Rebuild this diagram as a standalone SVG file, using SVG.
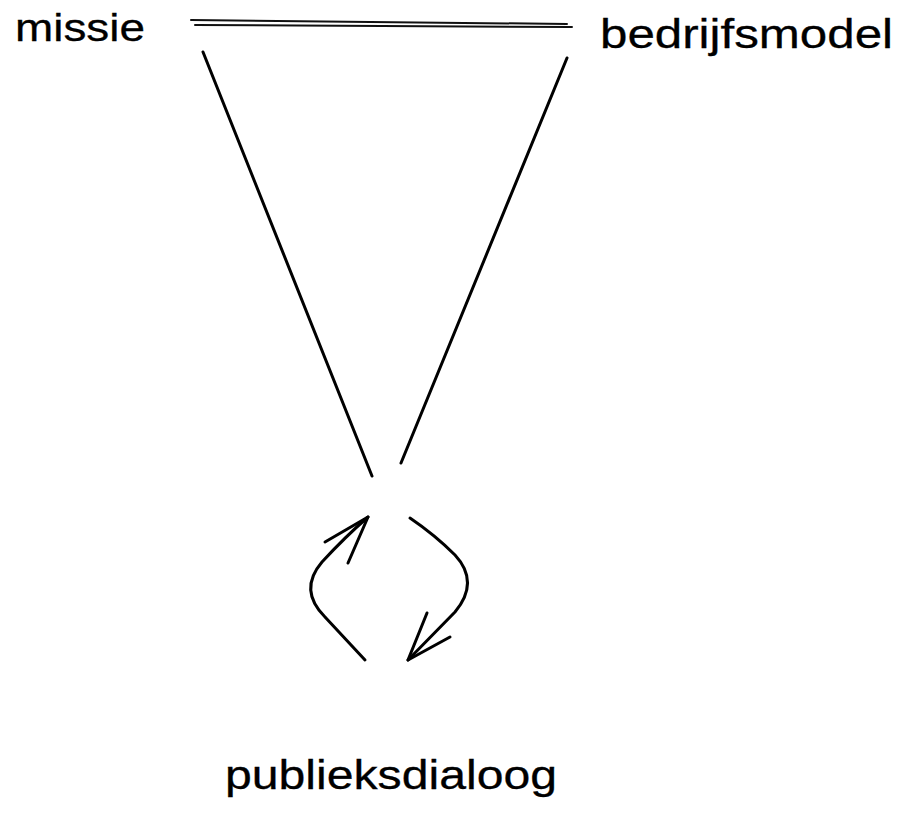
<svg xmlns="http://www.w3.org/2000/svg" width="913" height="817" viewBox="0 0 913 817">
<style>
.lbl{font-family:"Liberation Sans","DejaVu Sans",sans-serif;fill:#000000;stroke:#000000;stroke-width:0.3;}
.ln{fill:none;stroke:#000000;stroke-width:3;stroke-linecap:round;stroke-linejoin:round;}
.thin{fill:none;stroke:#111111;stroke-width:2;stroke-linecap:round;}
</style>
<rect width="913" height="817" fill="#ffffff"/>
<g id="node-missie">
<text class="lbl" x="15" y="41" font-size="38" textLength="130" lengthAdjust="spacingAndGlyphs">missie</text>
</g>
<g id="node-bedrijfsmodel">
<text class="lbl" x="600" y="48" font-size="40" textLength="293" lengthAdjust="spacingAndGlyphs">bedrijfsmodel</text>
</g>
<g id="node-publieksdialoog">
<text class="lbl" x="225" y="789" font-size="40" textLength="332" lengthAdjust="spacingAndGlyphs">publieksdialoog</text>
</g>
<g id="connectors">
<path class="thin" d="M191 20 L567 24"/>
<path class="thin" d="M195 25 L572 27"/>
<path class="ln" d="M203 52 L372 476"/>
<path class="ln" d="M567 58 L401 463"/>
<path class="ln" d="M365 660 L325 617 Q298 590 322 562 Q345 537 368 517"/>
<path class="ln" d="M368 517 L325 542 M368 517 L348 563"/>
<path class="ln" d="M410 518 Q435 535 455 555 Q480 582 455 612 L408 660"/>
<path class="ln" d="M408 660 L427 613 M408 660 L450 637"/>
</g>
</svg>
